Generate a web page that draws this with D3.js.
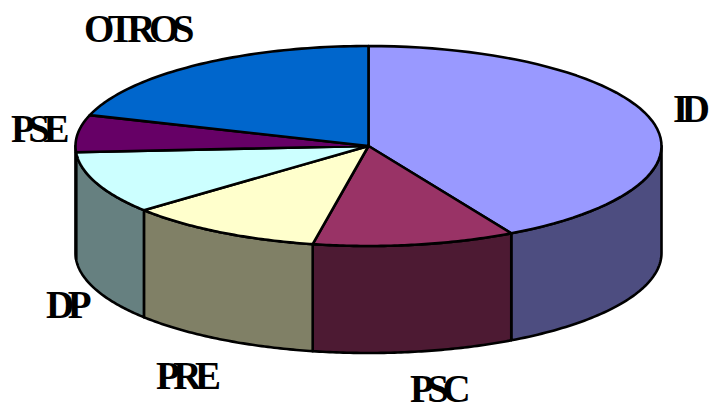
<!DOCTYPE html>
<html><head><meta charset="utf-8"><style>html,body{margin:0;background:#fff}svg{display:block}</style>
<script src="https://cdn.jsdelivr.net/npm/d3@7/dist/d3.min.js"></script></head><body><script>
const categories=["ID","PSC","PRE","DP","PSE","OTROS"];
const values=[41.9,11.15,10.85,10.1,6,20];
const topColors=["#9999ff","#993366","#ffffcc","#ccffff","#660066","#0066cc"];
const sideColors=["#4d4d80","#4d1a33","#808066","#668080","#330033","#003366"];
const labels=[[673,122],[410,402],[156,389],[46,318],[11,142],[84,42]];
const W=712,H=405,cx=368.5,cy=146,rx=293,ry=100,depth=107;
const svg=d3.select("body").append("svg").attr("width",W).attr("height",H);
const arcs=d3.pie().sort(null).value(d=>d)(values);
const px=d3.scaleLinear().domain([-1,1]).range([cx-rx,cx+rx]);
const py=d3.scaleLinear().domain([-1,1]).range([cy-ry,cy+ry]);
const pt=a=>[px(Math.sin(a)),py(-Math.cos(a))];
const sample=(a,b)=>d3.range(0,61).map(i=>a+(b-a)*i/60);
const line=d3.line();
// side walls, only the front half (angles PI/2 .. 3PI/2)
arcs.forEach((d,i)=>{
  const a=Math.max(d.startAngle,Math.PI/2),b=Math.min(d.endAngle,1.5*Math.PI);
  if(b<=a)return;
  const t=sample(a,b).map(pt);
  const outline=t.concat(t.slice().reverse().map(p=>[p[0],p[1]+depth]));
  svg.append("path").attr("d",line(outline)+"Z").attr("fill",sideColors[i])
    .attr("stroke","#000").attr("stroke-width",2.6).attr("stroke-linejoin","round");
});
// top
arcs.forEach((d,i)=>{
  const t=sample(d.startAngle,d.endAngle).map(pt);
  svg.append("path").attr("d",line([[cx,cy],...t])+"Z").attr("fill",topColors[i])
    .attr("stroke","#000").attr("stroke-width",2.6).attr("stroke-linejoin","round");
});
categories.forEach((c,i)=>{
  svg.append("text").attr("x",labels[i][0]).attr("y",labels[i][1]).text(c)
    .attr("font-family","'Liberation Serif'").attr("font-weight","bold")
    .attr("font-size",39).attr("letter-spacing",-6.5).attr("fill","#000");
});
</script></body></html>
